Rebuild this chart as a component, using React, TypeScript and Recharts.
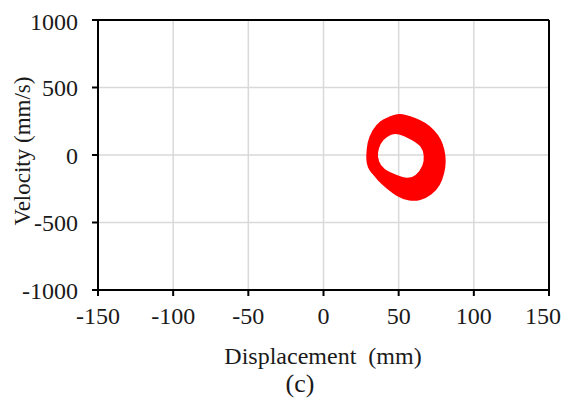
import { ScatterChart, Scatter, XAxis, YAxis, CartesianGrid, ReferenceLine } from 'recharts'

// phase-plane orbit: displacement (mm) vs velocity (mm/s)
const X_TICKS = [-150, -100, -50, 0, 50, 100, 150]
const Y_TICKS = [-1000, -500, 0, 500, 1000]

// outer edge of the orbit band
const outerLoop = [
  { x: 44.9, y: 245 }, { x: 49.6, y: 266 }, { x: 53.6, y: 260 }, { x: 59.6, y: 238 },
  { x: 66.2, y: 205 }, { x: 71.0, y: 158 }, { x: 75.0, y: 100 }, { x: 77.0, y: 32 },
  { x: 78.0, y: -50 }, { x: 76.8, y: -130 }, { x: 74.5, y: -205 }, { x: 70.0, y: -262 },
  { x: 63.5, y: -300 }, { x: 57.0, y: -300 }, { x: 50.6, y: -272 }, { x: 44.5, y: -220 },
  { x: 38.5, y: -160 }, { x: 34.0, y: -95 }, { x: 32.0, y: -10 }, { x: 32.5, y: 80 },
  { x: 35.5, y: 165 }, { x: 40.0, y: 225 },
]

// middle of the band
const midLoop = [
  { x: 42.5, y: 212 }, { x: 49, y: 235 }, { x: 56, y: 205 }, { x: 62.5, y: 172 },
  { x: 69, y: 115 }, { x: 73, y: 30 }, { x: 73, y: -45 }, { x: 70, y: -155 },
  { x: 65, y: -225 }, { x: 58, y: -252 }, { x: 50, y: -220 }, { x: 42, y: -170 },
  { x: 34.5, y: -100 }, { x: 32, y: -20 }, { x: 33, y: 80 }, { x: 37.5, y: 170 },
]

// inner edge (around the hole)
const innerLoop = [
  { x: 40.1, y: 170 }, { x: 47.0, y: 207 }, { x: 55.7, y: 176 }, { x: 60.1, y: 148 },
  { x: 68.3, y: 93 }, { x: 70.9, y: -1 }, { x: 69.9, y: -96 }, { x: 63.9, y: -190 },
  { x: 55.5, y: -221 }, { x: 46.7, y: -183 }, { x: 39.7, y: -150 }, { x: 32.6, y: -96 },
  { x: 31.6, y: -4 }, { x: 34.3, y: 111 },
]

const LOOPS = [outerLoop, midLoop, innerLoop]

const FONT = '"Liberation Serif", "Times New Roman", serif'
const TICK_STYLE = { fill: '#1a1a1a', fontSize: 24, fontFamily: FONT }
const RED = '#ff0000'

export default function App() {
  return (
    <div style={{ position: 'relative', width: 553, height: 392, fontFamily: FONT, color: '#1a1a1a' }}>
      <ScatterChart width={553} height={384} margin={{ top: 12, right: 12, bottom: 62, left: 0 }}>
        <CartesianGrid stroke="#d9d9d9" strokeWidth={1.5} />
        <XAxis
          type="number"
          dataKey="x"
          domain={[-150, 150]}
          ticks={X_TICKS}
          allowDataOverflow
          height={40}
          tick={TICK_STYLE}
          tickSize={6}
          tickMargin={11}
          axisLine={{ stroke: '#000', strokeWidth: 2 }}
          tickLine={{ stroke: '#000', strokeWidth: 2 }}
        />
        <YAxis
          type="number"
          dataKey="y"
          domain={[-1000, 1000]}
          ticks={Y_TICKS}
          allowDataOverflow
          width={90}
          tick={TICK_STYLE}
          tickSize={6}
          tickMargin={14}
          axisLine={{ stroke: '#000', strokeWidth: 2 }}
          tickLine={{ stroke: '#000', strokeWidth: 2 }}
        />
        <ReferenceLine y={1000} stroke="#000" strokeWidth={2} />
        <ReferenceLine x={150} stroke="#000" strokeWidth={2} />
        {LOOPS.map((loop, i) => (
          <Scatter
            key={i}
            data={loop}
            line={{ stroke: RED, strokeWidth: 11, strokeLinejoin: 'round' }}
            lineJointType="basisClosed"
            shape={() => <g />}
            fill={RED}
            isAnimationActive={false}
          />
        ))}
      </ScatterChart>
      <div
        style={{
          position: 'absolute', left: 15, top: 143, fontSize: 23, whiteSpace: 'nowrap',
          transform: 'translate(-50%, -50%) rotate(-90deg)',
        }}
      >
        Velocity (mm/s)
      </div>
      <div
        style={{
          position: 'absolute', left: 315, top: 348, fontSize: 24, whiteSpace: 'pre',
          transform: 'translate(-50%, -50%)', lineHeight: 1,
        }}
      >
        Displacement  (mm)
      </div>
      <div
        style={{
          position: 'absolute', left: 292, top: 376, fontSize: 26,
          transform: 'translate(-50%, -50%)', lineHeight: 1,
        }}
      >
        (c)
      </div>
    </div>
  )
}
